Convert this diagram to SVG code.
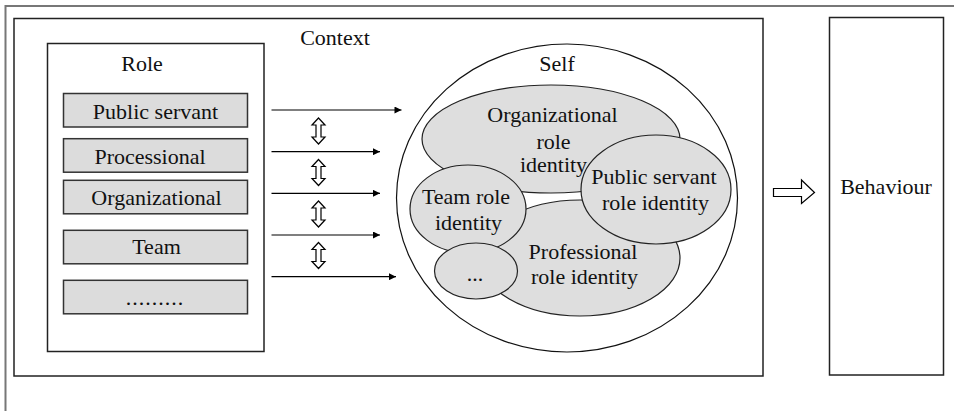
<svg xmlns="http://www.w3.org/2000/svg" width="954" height="411" viewBox="0 0 954 411">
<style>
text{font-family:"Liberation Serif","Times New Roman",serif;font-size:22px;fill:#111;text-anchor:middle}
.box{fill:#fff;stroke:#222;stroke-width:1.5}
.item{fill:#dcdcdc;stroke:#333;stroke-width:1.5}
.ell{fill:#dedede;stroke:#222;stroke-width:1.2}
.conn{stroke:#000;stroke-width:1.2;fill:none}
.hollow{fill:#fff;stroke:#000;stroke-width:1.2}
</style>
<defs>
<marker id="ah" viewBox="0 0 10 10" refX="10" refY="5" markerWidth="9" markerHeight="7" markerUnits="userSpaceOnUse" orient="auto"><path d="M0,0 L10,5 L0,10 Z" fill="#000"/></marker>
<path id="dbl" d="M0,0 L6.5,7 L2.5,7 L2.5,19 L6.5,19 L0,26 L-6.5,19 L-2.5,19 L-2.5,7 L-6.5,7 Z"/>
</defs>
<rect width="954" height="411" fill="#fff"/>
<rect x="5.5" y="6" width="960" height="420" fill="none" stroke="#777" stroke-width="2"/>
<g id="context">
<rect class="box" x="14" y="18.5" width="749" height="357.5"/>
<text x="335" y="45">Context</text>
</g>
<g id="role">
<rect class="box" x="47.5" y="43.5" width="216.5" height="308" stroke="#333"/>
<text x="142" y="71">Role</text>
</g>
<g id="role-public-servant"><rect class="item" x="63.5" y="93.5" width="184" height="33.5"/><text x="155.5" y="118.5">Public servant</text></g>
<g id="role-processional"><rect class="item" x="63.5" y="138.7" width="184" height="33.5"/><text x="150" y="163.5">Processional</text></g>
<g id="role-organizational"><rect class="item" x="63.5" y="180.3" width="184" height="33.5"/><text x="156.5" y="205">Organizational</text></g>
<g id="role-team"><rect class="item" x="63.5" y="230.3" width="184" height="33.5"/><text x="156.5" y="253.5">Team</text></g>
<g id="role-more"><rect class="item" x="63.5" y="280.3" width="184" height="33.5"/><text x="155" y="305" letter-spacing="1">.........</text></g>
<g id="self">
<ellipse cx="567" cy="198" rx="170.5" ry="154" fill="#fff" stroke="#111" stroke-width="1.2"/>
<text x="557" y="71">Self</text>
</g>
<g id="organizational-role-identity"><ellipse class="ell" cx="551" cy="139" rx="129" ry="54"/></g>
<g id="professional-role-identity"><ellipse class="ell" cx="580" cy="258" rx="100" ry="58"/></g>
<g id="public-servant-role-identity"><ellipse class="ell" cx="656" cy="189.5" rx="75" ry="54.5"/></g>
<g id="team-role-identity"><ellipse class="ell" cx="468" cy="209" rx="58" ry="44"/></g>
<g id="other-identity"><ellipse class="ell" cx="476" cy="271" rx="41.5" ry="28"/><text x="475" y="281">...</text></g>
<g id="identity-labels">
<text x="552.5" y="122">Organizational</text>
<text x="553.5" y="148.5">role</text>
<text x="553.5" y="172">identity</text>
<text x="654" y="184">Public servant</text>
<text x="655.5" y="210">role identity</text>
<text x="466" y="203.5">Team role</text>
<text x="468.5" y="229.5">identity</text>
<text x="583" y="258.5">Professional</text>
<text x="584.5" y="283.5">role identity</text>
</g>
<g id="behaviour">
<rect class="box" x="829.5" y="17.5" width="114" height="357.5" stroke="#333"/>
<text x="886" y="193.5">Behaviour</text>
</g>
<g id="connectors">
<line class="conn" x1="271.5" y1="110" x2="401.5" y2="110" marker-end="url(#ah)"/>
<line class="conn" x1="271.5" y1="151.7" x2="380" y2="151.7" marker-end="url(#ah)"/>
<line class="conn" x1="271.5" y1="193.3" x2="380" y2="193.3" marker-end="url(#ah)"/>
<line class="conn" x1="271.5" y1="235" x2="380" y2="235" marker-end="url(#ah)"/>
<line class="conn" x1="271.5" y1="276.7" x2="396" y2="276.7" marker-end="url(#ah)"/>
<use href="#dbl" class="hollow" x="318.5" y="118"/>
<use href="#dbl" class="hollow" x="318.5" y="159.5"/>
<use href="#dbl" class="hollow" x="318.5" y="201"/>
<use href="#dbl" class="hollow" x="318.5" y="242.5"/>
<path class="hollow" d="M773.5,188.5 L801.5,188.5 L801.5,180 L814.5,192.5 L801.5,203.5 L801.5,196.5 L773.5,196.5 Z"/>
</g>
</svg>
